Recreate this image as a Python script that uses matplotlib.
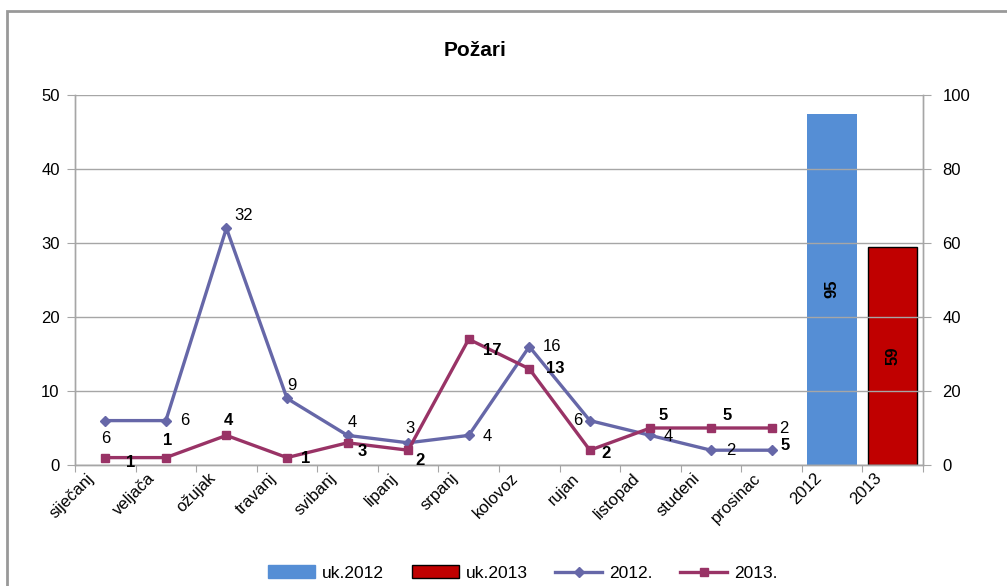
import matplotlib
matplotlib.use("Agg")
import matplotlib.pyplot as plt
from matplotlib.patches import Rectangle
from matplotlib.lines import Line2D
from matplotlib.patches import Patch
import matplotlib.transforms as mtransforms

plt.rcParams['font.family'] = ['Liberation Sans', 'DejaVu Sans']

categories = ['siječanj', 'veljača', 'ožujak', 'travanj', 'svibanj', 'lipanj',
              'srpanj', 'kolovoz', 'rujan', 'listopad', 'studeni', 'prosinac',
              '2012', '2013']
months = categories[:12]
series_2012 = [6, 6, 32, 9, 4, 3, 4, 16, 6, 4, 2, 2]
series_2013 = [1, 1, 4, 1, 3, 2, 17, 13, 2, 5, 5, 5]
totals = [95, 59]
total_labels = ['uk.2012', 'uk.2013']

# label offsets in pixels (dx, dy) for data labels
off_2012 = [(0, -18), (19, 0), (17, 13), (5, 13), (5, 13), (2, 14),
            (19, -1), (23, 0), (-12, 0), (18, -1), (20, 0), (12, 22)]
off_2013 = [(25, -5), (2, 17), (2, 15), (19, -1), (15, -9), (12, -10),
            (24, -11), (26, 0), (16, -3), (13, 12), (16, 12), (14, -17)]

c2012 = '#6667A8'
c2013 = '#993366'
cbar1 = '#558ED5'
cbar2 = '#C00000'
grid_c = '#A6A6A6'

W, H = 1007, 586
fig = plt.figure(figsize=(W / 100, H / 100), dpi=100)
L, R, T, B = 75, 923, 95, 465
ax = fig.add_axes([L / W, 1 - B / H, (R - L) / W, (B - T) / H])
ax2 = ax.twinx()

x = list(range(len(months)))
ax.set_xlim(-0.5, len(categories) - 0.5)
ax.set_ylim(0, 50)
ax2.set_ylim(0, 100)

ax.set_yticks(range(0, 51, 10))
ax2.set_yticks(range(0, 101, 20))
ax.yaxis.grid(True, color=grid_c, linewidth=1)
ax.set_axisbelow(True)

ax.plot(x, series_2012, color=c2012, lw=2.4, marker='D', ms=5.5, zorder=4)
ax.plot(x, series_2013, color=c2013, lw=2.4, marker='s', ms=6, zorder=5)

bx = [12, 13]
ax2.bar(bx[0], totals[0], width=0.83, color=cbar1, zorder=2)
ax2.bar(bx[1], totals[1], width=0.8, color=cbar2, edgecolor='black', linewidth=1, zorder=2)
for xi, v in zip(bx, totals):
    ax2.text(xi, v / 2, str(v), rotation=90, ha='center', va='center',
             fontsize=12, fontweight='bold', color='black')

for i, v in enumerate(series_2012):
    dx, dy = off_2012[i]
    ax.annotate(str(v), (i, v), xytext=(dx, dy), textcoords='offset pixels',
                ha='center', va='center', fontsize=12, color='black', zorder=6)
for i, v in enumerate(series_2013):
    dx, dy = off_2013[i]
    ax.annotate(str(v), (i, v), xytext=(dx, dy), textcoords='offset pixels',
                ha='center', va='center', fontsize=12, fontweight='bold',
                color='black', zorder=6)

# x ticks between categories, labels at centers
ax.set_xticks([i - 0.5 for i in range(len(categories) + 1)])
ax.set_xticklabels([])
ax.tick_params(axis='x', length=5, color=grid_c, direction='out')
ax.set_xticks(range(len(categories)), minor=True)
ax.set_xticklabels(categories, minor=True, rotation=45, ha='right', va='top',
                   fontsize=12)
ax.tick_params(axis='x', which='minor', length=0, pad=4)
offset = mtransforms.ScaledTranslation(-0.08, 0.0, fig.dpi_scale_trans)
for lbl in ax.get_xticklabels(minor=True):
    lbl.set_transform(lbl.get_transform() + offset)

ax.tick_params(axis='y', length=6, color=grid_c, labelsize=12, pad=5)
ax2.tick_params(axis='y', length=6, color=grid_c, labelsize=12, pad=8)

for a in (ax, ax2):
    a.spines['top'].set_visible(False)
    for s in ('left', 'right', 'bottom'):
        a.spines[s].set_color(grid_c)
        a.spines[s].set_linewidth(1)

ax.set_zorder(ax2.get_zorder() + 1)
ax.patch.set_visible(False)

fig.text(475 / W, 1 - 51 / H, 'Požari', ha='center', va='center',
         fontsize=15, fontweight='bold')

handles = [Patch(facecolor=cbar1, edgecolor=cbar1),
           Patch(facecolor=cbar2, edgecolor='black'),
           Line2D([], [], color=c2012, lw=2.4, marker='D', ms=5),
           Line2D([], [], color=c2013, lw=2.4, marker='s', ms=5.5)]
fig.legend(handles, total_labels + ['2012.', '2013.'], loc='center',
           bbox_to_anchor=(523 / W, 1 - 573 / H), ncol=4, frameon=False,
           fontsize=12.5, handlelength=2.7, handleheight=0.8, columnspacing=1.6,
           handletextpad=0.4)

fig.add_artist(Rectangle((7 / W, -0.1), 1.1, 1 - 11 / H + 0.1,
                         transform=fig.transFigure, fill=False,
                         edgecolor='#999999', linewidth=2))

fig.savefig('out.png', dpi=100)
